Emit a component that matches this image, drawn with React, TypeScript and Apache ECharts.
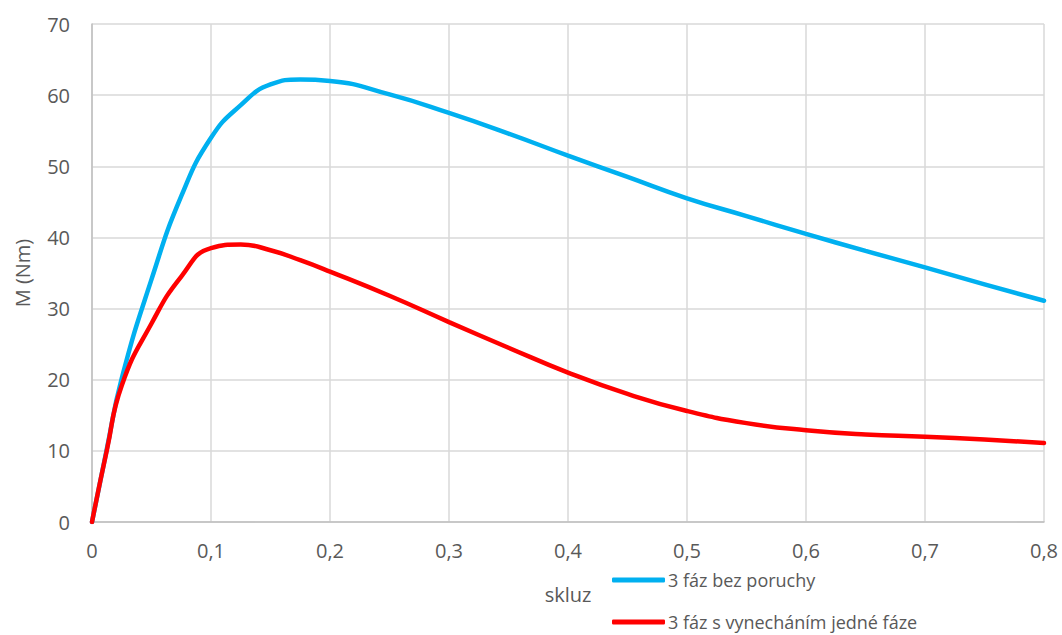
import React, { useEffect, useRef } from "react";
import * as echarts from "echarts";

const healthySlip = [0, 0.0125, 0.025, 0.05, 0.075, 0.1, 0.125, 0.15, 0.175, 0.2, 0.25, 0.3, 0.35, 0.4, 0.45, 0.5, 0.55, 0.6, 0.65, 0.7, 0.75, 0.8];
const healthyTorque = [0, 10.3, 20.2, 34.1, 45.8, 54.0, 58.6, 61.5, 62.2, 62.0, 60.1, 57.5, 54.6, 51.5, 48.5, 45.5, 43.0, 40.5, 38.1, 35.8, 33.4, 31.1];
const faultSlip = [0, 0.0125, 0.025, 0.05, 0.075, 0.1, 0.125, 0.15, 0.175, 0.2, 0.25, 0.3, 0.35, 0.4, 0.45, 0.5, 0.55, 0.6, 0.65, 0.7, 0.75, 0.8];
const faultTorque = [0, 10.1, 19.2, 27.9, 34.5, 38.5, 39.0, 38.2, 36.8, 35.2, 31.8, 28.1, 24.5, 21.0, 18.0, 15.6, 13.9, 12.9, 12.3, 12.0, 11.6, 11.1];

const seriesNames = ["3 fáz bez poruchy", "3 fáz s vynecháním jedné fáze"];
const xTicks = { min: 0, max: 0.8, interval: 0.1 };
const yTicks = { min: 0, max: 70, interval: 10 };

const FONT = "'Open Sans', 'Noto Sans', sans-serif";
const TXT = "#595959";

export default function App() {
  const ref = useRef<HTMLDivElement>(null);
  useEffect(() => {
    if (!ref.current) return;
    const chart = echarts.init(ref.current, undefined, { renderer: "svg" });
    const legendBase = {
      orient: "vertical",
      left: 612,
      padding: 0,
      icon: "roundRect",
      itemWidth: 53,
      itemHeight: 5,
      textStyle: { fontFamily: FONT, fontSize: 18, color: TXT, padding: [0, 0, 0, -2] },
    };
    chart.setOption({
      animation: false,
      backgroundColor: "#ffffff",
      textStyle: { fontFamily: FONT },
      grid: { left: 92, right: 18, top: 24, bottom: 113 },
      legend: [
        { ...legendBase, top: 571, data: [seriesNames[0]] },
        { ...legendBase, top: 613, data: [seriesNames[1]] },
      ],
      xAxis: {
        type: "value",
        min: xTicks.min,
        max: xTicks.max,
        interval: xTicks.interval,
        name: "skluz",
        nameLocation: "middle",
        nameGap: 62,
        nameTextStyle: { fontFamily: FONT, fontSize: 20, color: TXT },
        axisLine: { show: true, lineStyle: { color: "#bfbfbf", width: 1.5 } },
        axisTick: { show: false },
        splitLine: { show: true, lineStyle: { color: "#d9d9d9", width: 1.5 } },
        axisLabel: {
          margin: 18,
          fontFamily: FONT,
          fontSize: 20,
          color: TXT,
          formatter: (v: number) => String(Math.round(v * 10) / 10).replace(".", ","),
        },
      },
      yAxis: {
        type: "value",
        min: yTicks.min,
        max: yTicks.max,
        interval: yTicks.interval,
        name: "M (Nm)",
        nameLocation: "middle",
        nameGap: 60,
        nameTextStyle: { fontFamily: FONT, fontSize: 20, color: TXT },
        axisLine: { show: true, lineStyle: { color: "#bfbfbf", width: 1.5 } },
        axisTick: { show: false },
        splitLine: { show: true, lineStyle: { color: "#d9d9d9", width: 1.5 } },
        axisLabel: { margin: 22, fontFamily: FONT, fontSize: 20, color: TXT },
      },
      series: [
        {
          name: seriesNames[0],
          type: "line",
          smooth: 0.5,
          showSymbol: false,
          symbol: "none",
          color: "#00b0f0",
          lineStyle: { color: "#00b0f0", width: 4.5, cap: "round" },
          data: healthySlip.map((x, i) => [x, healthyTorque[i]]),
        },
        {
          name: seriesNames[1],
          type: "line",
          smooth: 0.5,
          showSymbol: false,
          symbol: "none",
          color: "#ff0000",
          lineStyle: { color: "#ff0000", width: 4.5, cap: "round" },
          data: faultSlip.map((x, i) => [x, faultTorque[i]]),
        },
      ],
    });
    return () => chart.dispose();
  }, []);
  return (
    <div
      ref={ref}
      style={{ position: "fixed", left: 0, top: 0, width: 1062, height: 635, background: "#fff" }}
    />
  );
}
